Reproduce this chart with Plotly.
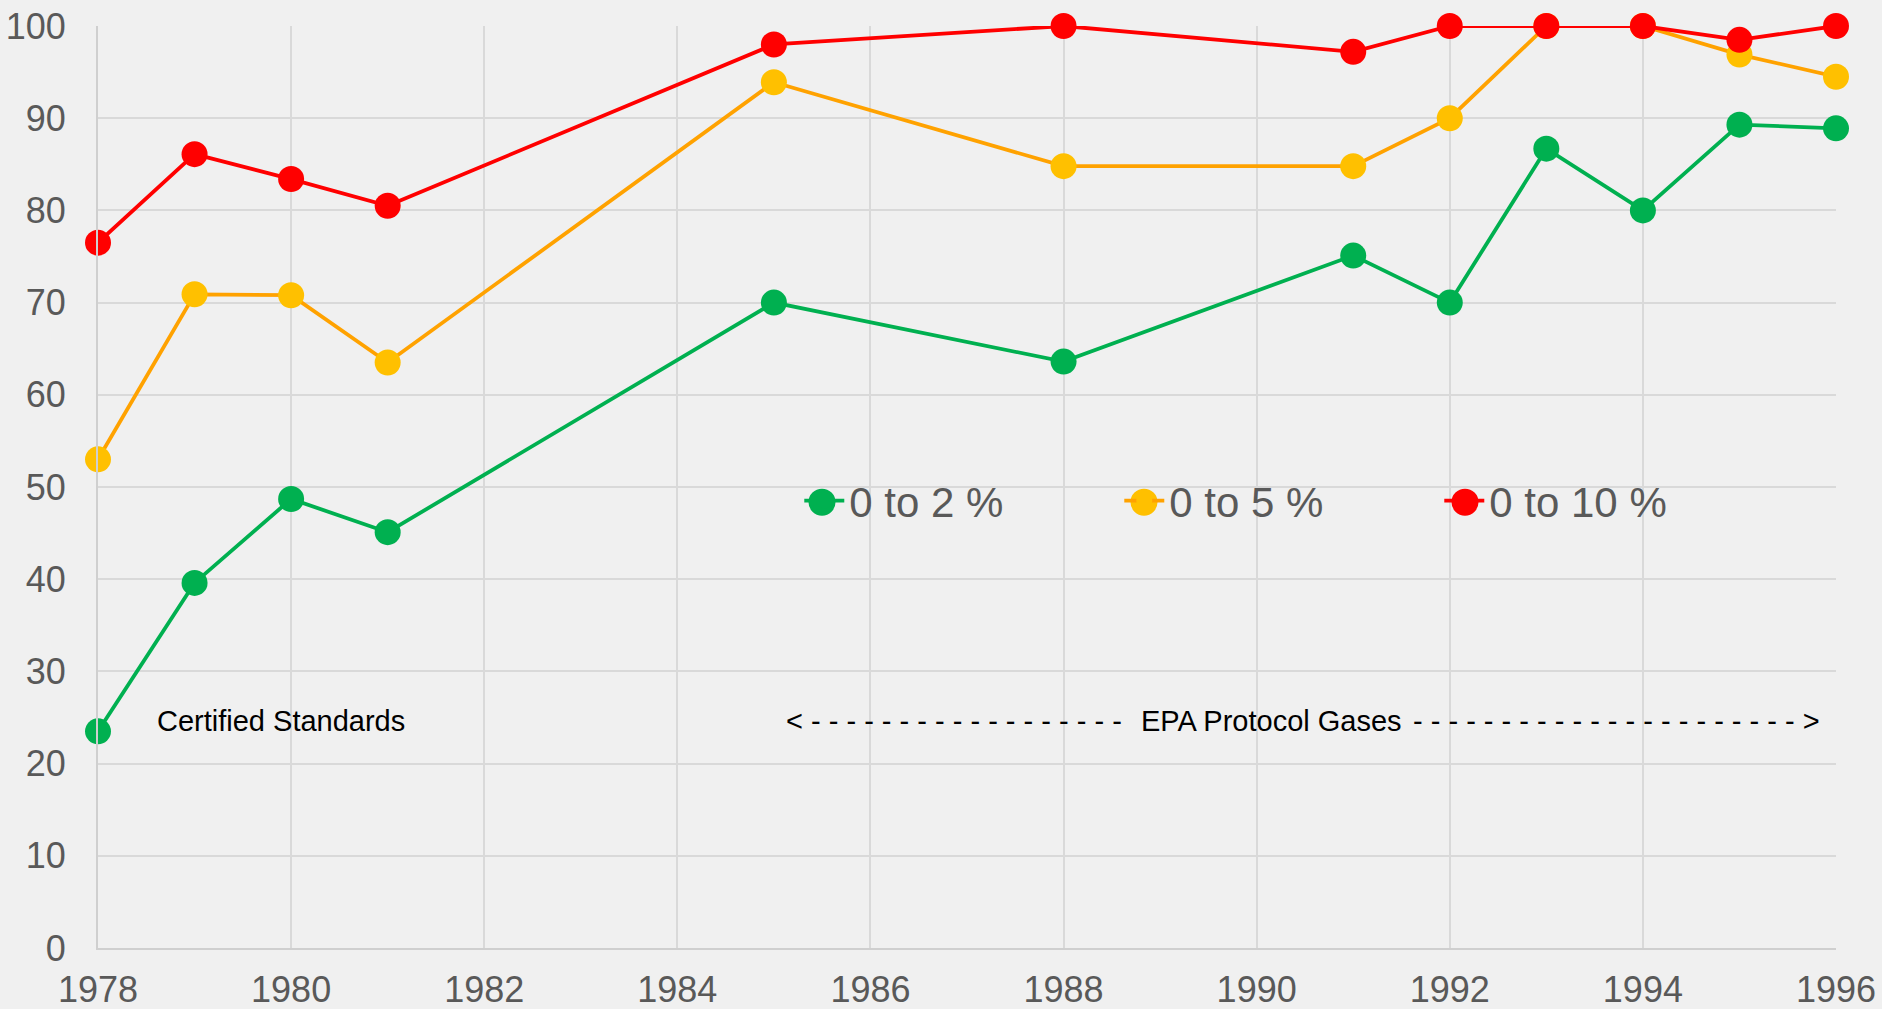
import plotly.graph_objects as go

years = [1978, 1979, 1980, 1981, 1985, 1988, 1991, 1992, 1993, 1994, 1995, 1996]
pct_2 = [23.5, 39.6, 48.7, 45.1, 70.0, 63.6, 75.1, 70.0, 86.7, 80.0, 89.3, 88.9]
pct_5 = [53.0, 70.9, 70.8, 63.5, 93.9, 84.8, 84.8, 90.0, 100.0, 100.0, 96.9, 94.5]
pct_10 = [76.5, 86.1, 83.4, 80.5, 98.0, 100.0, 97.2, 100.0, 100.0, 100.0, 98.5, 100.0]
series_names = ["0 to 2 %", "0 to 5 %", "0 to 10 %"]
x_ticks = list(range(1978, 1997, 2))
y_ticks = list(range(0, 101, 10))

fig = go.Figure()
styles = [
    ("#00B050", "#00B050"),
    ("#FFA200", "#FFC000"),
    ("#FF0000", "#FF0000"),
]
for name, vals, (lc, mc) in zip(series_names, [pct_2, pct_5, pct_10], styles):
    fig.add_trace(go.Scatter(
        x=years, y=vals, name=name, mode="lines+markers",
        line=dict(color=lc, width=3.8),
        marker=dict(color=mc, size=26, line=dict(width=0)),
        cliponaxis=False,
    ))

# enlarge legend key markers (legend caps marker size) with circles underneath
PLOT_L, PLOT_W, PLOT_B, PLOT_H = 98, 1738, 948, 922.3
legend_key_px = [822, 1144, 1465]
legend_y_px = 502
for (lc, mc), kx in zip(styles, legend_key_px):
    fig.add_shape(type="circle", xref="paper", yref="paper",
                  xsizemode="pixel", ysizemode="pixel",
                  xanchor=(kx - PLOT_L) / PLOT_W, yanchor=(PLOT_B - legend_y_px) / PLOT_H,
                  x0=-13.5, x1=13.5, y0=-13.5, y1=13.5,
                  fillcolor=mc, line=dict(width=0), layer="above")

fig.update_layout(
    width=1882, height=1009,
    margin=dict(l=98, r=46, t=26, b=61, autoexpand=False),
    paper_bgcolor="#F0F0F0", plot_bgcolor="#F0F0F0",
    font=dict(family="Liberation Sans, Arial", color="#595959"),
    showlegend=True,
    legend=dict(
        orientation="h", x=0.4035, y=0.485, xanchor="left", yanchor="middle",
        font=dict(size=42, color="#595959"), bgcolor="rgba(0,0,0,0)",
        entrywidth=265, entrywidthmode="pixels", itemwidth=40,
    ),
    xaxis=dict(
        range=[1978, 1996], tickvals=x_ticks, ticktext=[str(t) for t in x_ticks],
        showgrid=True, gridcolor="#D9D9D9", gridwidth=1.5,
        showline=True, linecolor="#CFCFCF", linewidth=2,
        zeroline=False, tickfont=dict(size=36, color="#595959"),
        ticks="", ticklabelstandoff=9, automargin=False,
    ),
    yaxis=dict(
        range=[0, 100], tickvals=y_ticks,
        showgrid=True, gridcolor="#D9D9D9", gridwidth=1.5,
        showline=True, linecolor="#CFCFCF", linewidth=2,
        zeroline=False, tickfont=dict(size=36, color="#595959"),
        ticks="", ticklabelstandoff=23, automargin=False,
    ),
)

fig.add_annotation(x=1978.59, y=24.6, text="Certified Standards", showarrow=False,
                   xanchor="left", yanchor="middle", font=dict(size=29, color="#000000"))
left_part = "<" + " -" * 18
right_part = "- " * 22 + ">"
fig.add_annotation(x=1985.1, y=24.6, text=left_part, showarrow=False,
                   xanchor="left", yanchor="middle", font=dict(size=29, color="#000000"))
fig.add_annotation(x=1990.15, y=24.6, text="EPA Protocol Gases", showarrow=False,
                   xanchor="center", yanchor="middle", font=dict(size=29, color="#000000"))
fig.add_annotation(x=1995.85, y=24.6, text=right_part, showarrow=False,
                   xanchor="right", yanchor="middle", font=dict(size=29, color="#000000"))

fig.write_html("out.html", config={"displayModeBar": False},
               post_script="document.body.style.margin='0px';document.body.style.overflow='hidden';")
